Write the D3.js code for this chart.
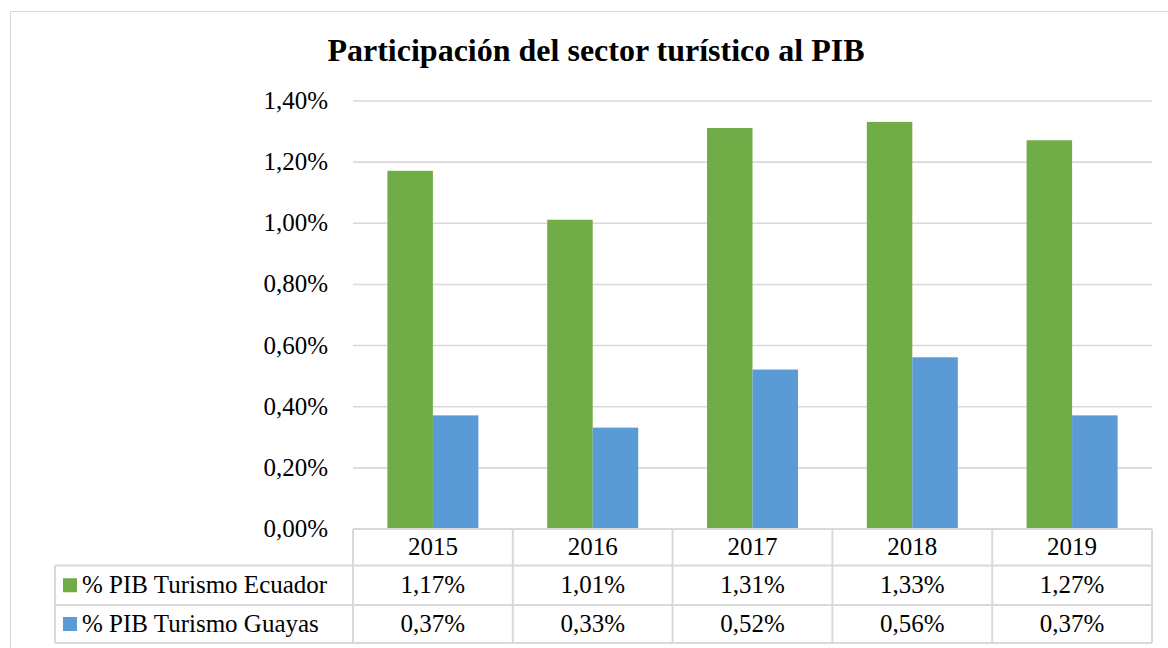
<!DOCTYPE html>
<html>
<head>
<meta charset="utf-8">
<script src="https://cdn.jsdelivr.net/npm/d3@7"></script>
<style>
    html, body { margin: 0; padding: 0; background: #fff; }
</style>
</head>
<body>
<svg id="chart" width="1168" height="648"></svg>
<script>
const years = ['2015', '2016', '2017', '2018', '2019'];
const seriesNames = ['% PIB Turismo Ecuador', '% PIB Turismo Guayas'];
const ecuador = [1.17, 1.01, 1.31, 1.33, 1.27];
const guayas = [0.37, 0.33, 0.52, 0.56, 0.37];
const yTicks = [0, 0.2, 0.4, 0.6, 0.8, 1.0, 1.2, 1.4];
const colors = ['#70ad47', '#5b9bd5'];

const series = [ecuador, guayas];
const serif = 'Tinos, "Times New Roman", "Liberation Serif", serif';

// comma decimals, like the spanish excel output
const locale = d3.formatLocale({ decimal: ',', thousands: '.', grouping: [3], currency: ['', ''] });
const pct = v => locale.format('.2f')(v) + '%';

const svg = d3.select('#chart');
const gridColor = '#d9d9d9';
const fontSize = 25;

// outer chart frame
svg.append('rect')
    .attr('x', 10.5).attr('y', 11.5)
    .attr('width', 1170).attr('height', 660)
    .attr('fill', 'none').attr('stroke', gridColor).attr('stroke-width', 1);

const plotLeft = 353, plotRight = 1152, plotTop = 100.5, zero = 528.5;

const x = d3.scaleBand().domain(years).range([plotLeft, plotRight]);
const y = d3.scaleLinear().domain([0, 1.4]).range([zero, plotTop]);

// gridlines
svg.append('g')
    .attr('transform', `translate(${plotLeft},0)`)
    .call(d3.axisLeft(y).tickValues(yTicks.slice(1)).tickSize(-(plotRight - plotLeft)).tickFormat(''))
    .call(g => g.select('.domain').remove())
    .call(g => g.selectAll('line').attr('stroke', gridColor).attr('stroke-width', 1.6));

// y labels
svg.append('g')
    .attr('transform', 'translate(328,0)')
    .call(d3.axisLeft(y).tickValues(yTicks).tickSize(0).tickPadding(0).tickFormat(pct))
    .call(g => g.select('.domain').remove())
    .call(g => g.selectAll('text').attr('fill', '#000')
        .style('font-size', fontSize + 'px').style('font-family', serif).style('font-weight', 400));

// bars
const barW = 45.5;
const groups = svg.append('g').selectAll('g')
    .data(years)
    .join('g')
    .attr('transform', d => `translate(${x(d) + x.bandwidth() / 2 - barW},0)`);

groups.selectAll('rect')
    .data((d, i) => series.map((s, k) => ({ k, v: s[i] })))
    .join('rect')
    .attr('x', d => d.k * barW)
    .attr('y', d => y(d.v))
    .attr('width', barW)
    .attr('height', d => zero - y(d.v))
    .attr('fill', d => colors[d.k]);

// title
svg.append('text')
    .attr('x', 596).attr('y', 61)
    .attr('text-anchor', 'middle')
    .style('font-family', serif).style('font-size', '32px').style('font-weight', 'bold')
    .text('Participación del sector turístico al PIB');

// data table
const rowY = [529, 565.5, 605, 643];
const tableLeft = 55;
const table = svg.append('g').attr('stroke', gridColor).attr('stroke-width', 2).attr('fill', 'none');

table.append('line').attr('x1', plotLeft).attr('x2', plotRight).attr('y1', rowY[0]).attr('y2', rowY[0]);
rowY.slice(1).forEach(ry => {
    table.append('line').attr('x1', tableLeft).attr('x2', plotRight).attr('y1', ry).attr('y2', ry);
});
table.append('line').attr('x1', tableLeft).attr('x2', tableLeft).attr('y1', rowY[1]).attr('y2', rowY[3]);
table.selectAll('line.v')
    .data(years.map(yr => x(yr)).concat([plotRight]))
    .join('line')
    .attr('class', 'v')
    .attr('x1', d => d).attr('x2', d => d)
    .attr('y1', rowY[0]).attr('y2', rowY[3]);

const cellText = sel => sel.style('font-family', serif).style('font-size', fontSize + 'px')
    .style('font-weight', 400).attr('fill', '#000');

svg.append('g').selectAll('text')
    .data(years)
    .join('text')
    .attr('x', d => x(d) + x.bandwidth() / 2)
    .attr('y', (rowY[0] + rowY[1]) / 2 + 8)
    .attr('text-anchor', 'middle')
    .call(cellText)
    .text(d => d);

series.forEach((s, k) => {
    const cy = (rowY[k + 1] + rowY[k + 2]) / 2;
    svg.append('rect')
        .attr('x', 63).attr('y', cy - 7)
        .attr('width', 14).attr('height', 14)
        .attr('fill', colors[k]);
    svg.append('text')
        .attr('x', 82).attr('y', cy + 8)
        .call(cellText)
        .text(seriesNames[k]);
    svg.append('g').selectAll('text')
        .data(s)
        .join('text')
        .attr('x', (d, i) => x(years[i]) + x.bandwidth() / 2)
        .attr('y', cy + 8)
        .attr('text-anchor', 'middle')
        .call(cellText)
        .text(d => pct(d));
});
</script>
</body>
</html>
